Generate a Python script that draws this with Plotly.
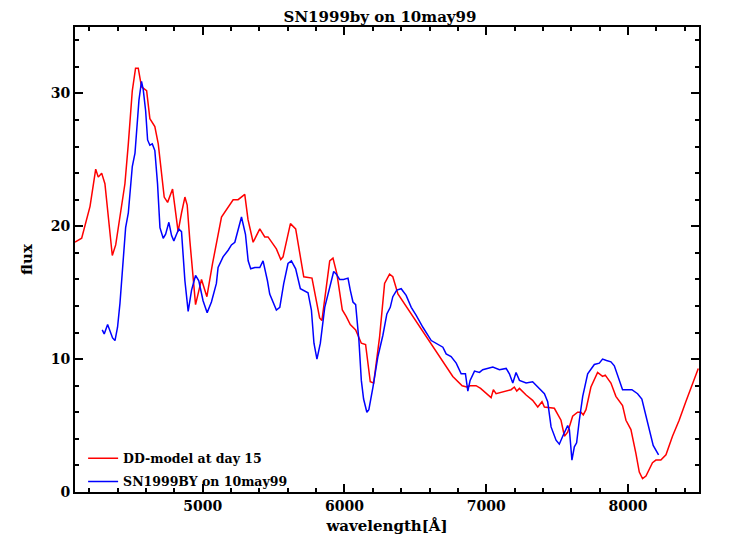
import plotly.graph_objects as go

# DD-model at day 15
model_wl = [4100, 4147, 4206, 4246, 4264, 4288, 4311, 4335, 4363, 4387, 4417, 4452, 4476, 4504, 4527, 4546,
            4569, 4605, 4628, 4663, 4687, 4710, 4729, 4753, 4788, 4804, 4827, 4851, 4875, 4891, 4910, 4950,
            4992, 5030, 5070, 5133, 5215, 5250, 5297, 5320, 5356, 5403, 5438, 5461, 5520, 5551, 5567, 5619,
            5656, 5713, 5771, 5825, 5841, 5896, 5919, 5947, 5985, 6013, 6041, 6079, 6119, 6149, 6182, 6206,
            6248, 6283, 6318, 6341, 6377, 6764, 6830, 6862, 6886, 6928, 6960, 7034, 7050, 7069, 7105, 7175,
            7198, 7215, 7234, 7281, 7327, 7363, 7393, 7410, 7480, 7527, 7551, 7574, 7609, 7644, 7668, 7684,
            7703, 7738, 7785, 7820, 7839, 7879, 7914, 7961, 7985, 8020, 8055, 8079, 8102, 8126, 8172, 8196,
            8231, 8267, 8313, 8360, 8407, 8454, 8495]
model_flux = [18.8, 19.1, 21.5, 24.3, 23.7, 24.0, 23.2, 20.7, 17.8, 18.6, 20.7, 23.2, 26.2, 30.2, 31.9, 31.9,
              30.5, 30.2, 28.1, 27.5, 26.2, 24.0, 22.2, 21.8, 22.8, 21.5, 19.6, 21.0, 22.2, 21.6, 18.9, 14.1,
              16.0, 14.7, 17.2, 20.7, 22.0, 22.0, 22.4, 20.5, 18.8, 19.8, 19.2, 19.2, 18.3, 17.5, 17.7, 20.2,
              19.8, 16.2, 16.1, 13.1, 12.9, 17.4, 17.6, 16.4, 13.7, 13.2, 12.6, 12.2, 11.2, 11.1, 8.3, 8.2,
              11.7, 15.7, 16.4, 16.2, 14.9, 8.7, 8.0, 7.9, 8.0, 8.0, 7.8, 7.1, 7.7, 7.4, 7.5, 7.7,
              7.9, 7.6, 7.8, 7.3, 6.9, 6.4, 6.8, 6.4, 6.3, 5.4, 4.2, 4.5, 5.7, 6.0, 6.0, 5.8,
              6.2, 7.9, 9.0, 8.7, 8.8, 8.2, 7.2, 6.5, 5.4, 4.7, 2.9, 1.5, 1.0, 1.2, 2.2, 2.4,
              2.4, 2.8, 4.2, 5.4, 6.8, 8.2, 9.3]

# SN1999BY on 10may99 observed spectrum
obs_wl = [4292, 4306, 4330, 4346, 4365, 4382, 4400, 4417, 4429, 4457, 4476, 4504, 4523, 4534, 4551, 4569,
          4581, 4598, 4612, 4628, 4645, 4663, 4682, 4699, 4722, 4739, 4762, 4781, 4797, 4816, 4832, 4851,
          4875, 4898, 4922, 4950, 4973, 5003, 5032, 5062, 5097, 5109, 5144, 5180, 5203, 5227, 5250, 5274,
          5302, 5321, 5339, 5368, 5403, 5426, 5457, 5473, 5520, 5544, 5572, 5602, 5626, 5656, 5689, 5720,
          5743, 5767, 5785, 5806, 5830, 5861, 5891, 5924, 5943, 5966, 5994, 6025, 6041, 6060, 6079, 6102,
          6119, 6135, 6158, 6172, 6201, 6236, 6271, 6299, 6323, 6341, 6369, 6400, 6435, 6471, 6506, 6553,
          6612, 6658, 6694, 6717, 6752, 6788, 6823, 6853, 6870, 6886, 6917, 6952, 6975, 7046, 7093, 7140,
          7163, 7187, 7210, 7234, 7281, 7327, 7363, 7410, 7433, 7457, 7492, 7515, 7539, 7574, 7586, 7604,
          7621, 7637, 7656, 7680, 7715, 7762, 7797, 7820, 7848, 7879, 7903, 7938, 7961, 8027, 8067, 8097,
          8126, 8154, 8177, 8215]
obs_flux = [12.2, 11.9, 12.6, 12.2, 11.6, 11.4, 12.4, 14.2, 15.9, 19.9, 21.0, 24.5, 25.5, 27.0, 29.5, 30.9,
            30.3, 28.7, 26.5, 26.1, 26.2, 25.7, 23.2, 19.9, 19.1, 19.4, 20.3, 19.3, 18.9, 19.4, 19.8, 19.6,
            15.9, 13.6, 15.2, 16.3, 15.9, 14.4, 13.5, 14.3, 15.7, 16.9, 17.7, 18.2, 18.6, 18.8, 19.8, 20.7,
            19.4, 17.4, 16.8, 16.9, 16.9, 17.4, 15.9, 14.9, 13.7, 13.9, 15.7, 17.2, 17.4, 16.8, 15.3, 15.1,
            15.0, 13.7, 11.2, 10.0, 11.2, 13.9, 15.1, 16.6, 16.4, 16.0, 16.0, 16.1, 15.2, 14.3, 14.1, 11.4,
            8.4, 7.0, 6.0, 6.2, 7.9, 10.2, 11.8, 13.4, 13.9, 14.7, 15.2, 15.3, 14.8, 13.9, 13.3, 12.4,
            11.4, 11.1, 10.9, 10.4, 10.2, 9.7, 8.9, 8.9, 7.6, 8.4, 9.1, 9.0, 9.2, 9.4, 9.2, 9.3,
            8.9, 8.2, 9.0, 8.4, 8.2, 8.3, 7.9, 7.4, 6.8, 4.9, 3.9, 3.6, 4.2, 5.0, 4.7, 2.4,
            3.4, 3.7, 5.4, 7.2, 8.9, 9.6, 9.7, 10.0, 9.9, 9.8, 9.5, 8.4, 7.7, 7.7, 7.4, 7.0,
            5.7, 4.4, 3.5, 2.8]

font = "DejaVu Serif"

fig = go.Figure()
fig.add_scatter(x=model_wl, y=model_flux, mode="lines", line=dict(color="#ff0000", width=1.5),
                name="DD-model at day 15", legendgroup="a")
fig.add_scatter(x=obs_wl, y=obs_flux, mode="lines", line=dict(color="#0000ff", width=1.5),
                name="SN1999BY on 10may99", legendgroup="b")

axis_style = dict(showgrid=False, zeroline=False, showline=True, linecolor="black", linewidth=2,
                  mirror="allticks", ticks="inside", ticklen=8, tickwidth=1.5, tickcolor="black",
                  tickfont=dict(family=font, size=14, color="black", weight="bold"))

fig.update_xaxes(range=[4100, 8500], dtick=1000, tick0=0,
                 minor=dict(ticks="inside", dtick=200, ticklen=4, tickwidth=1.5, tickcolor="black"),
                 title=dict(text="wavelength[Å]",
                            font=dict(family=font, size=15, color="black", weight="bold"), standoff=8),
                 **axis_style)
fig.update_yaxes(range=[0, 35], dtick=10, tick0=0,
                 minor=dict(ticks="inside", dtick=2, ticklen=4, tickwidth=1.5, tickcolor="black"),
                 title=dict(text="flux", font=dict(family=font, size=15, color="black", weight="bold"),
                            standoff=14),
                 **axis_style)

# the page body has an 8px margin, so the margins are set 8px smaller on left/top
fig.update_layout(
    width=744, height=556,
    margin=dict(l=67, r=53, t=19, b=72),
    paper_bgcolor="white", plot_bgcolor="white",
    title=dict(text="SN1999by on 10may99", x=0.5, xanchor="center", y=0.985, yanchor="middle",
               font=dict(family=font, size=15, color="black", weight="bold")),
    font=dict(family=font, color="black"),
    legend=dict(x=0.013, y=-0.01, xanchor="left", yanchor="bottom", bgcolor="rgba(0,0,0,0)",
                font=dict(family=font, size=12.5, color="black", weight="bold"), tracegroupgap=4),
    showlegend=True,
)

fig.write_html("out.html")
